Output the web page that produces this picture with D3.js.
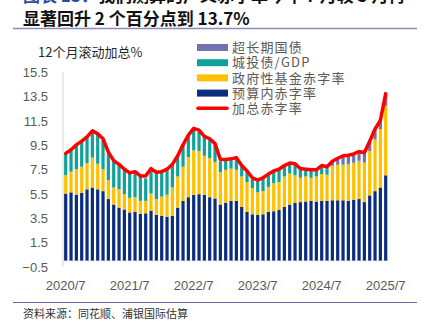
<!DOCTYPE html>
<html>
<head>
<meta charset="utf-8">
<script src="https://cdn.jsdelivr.net/npm/d3@7"></script>
<style>
    html, body { margin: 0; padding: 0; background: #ffffff; }
    svg { display: block; }
</style>
</head>
<body>
<svg id="chart" width="429" height="327"></svg>
<script>
/* ---------------------------------------------------------
   Data (12-month rolling sums, % of GDP), 2020/7 .. 2025/7
   --------------------------------------------------------- */

const START_YEAR = 2020;
const START_MONTH = 7;
const N_MONTHS = 61;

// 预算内赤字率
const budget = [
    5.5, 5.6, 5.4, 5.55, 5.85, 6.0, 5.85, 5.7, 5.05, 4.6, 4.35, 4.2,
    3.95, 4.0, 3.85, 3.88, 4.1, 3.75, 3.68, 3.6, 3.68, 4.35, 4.9, 5.2,
    5.4, 5.45, 5.4, 5.2, 5.1, 4.6, 4.75, 4.9, 4.9, 4.4, 4.0, 3.8,
    3.75, 3.8, 4.0, 4.05, 4.15, 4.4, 4.6, 4.75, 4.8, 4.85, 4.9, 4.85,
    4.9, 4.9, 4.95, 4.95, 4.95, 4.9, 5.0, 5.05, 4.8, 5.35, 5.7, 6.0,
    7.0
];

// 政府性基金赤字率
const fund = [
    1.5, 1.7, 2.1, 2.15, 2.15, 2.45, 2.1, 1.8, 1.55, 1.4, 1.5, 1.25,
    1.2, 1.2, 1.05, 1.02, 1.4, 1.3, 1.57, 1.8, 2.32, 2.55, 2.8, 3.3,
    3.65, 3.55, 3.2, 3.2, 3.0, 2.65, 2.7, 2.65, 2.55, 2.5, 2.45, 2.15,
    1.85, 1.9, 2.05, 2.3, 2.3, 2.5, 2.55, 2.25, 2.0, 2.05, 1.9, 2.05,
    2.2, 2.15, 2.8, 2.9, 2.9, 3.0, 3.0, 3.1, 3.25, 3.65, 4.25, 4.8,
    5.7
];

// 城投债/GDP
const lgfv = [
    1.8, 1.8, 2.0, 2.05, 2.1, 2.05, 2.35, 2.4, 2.2, 2.15, 2.0, 2.0,
    2.0, 2.05, 2.0, 1.85, 1.85, 2.15, 2.0, 2.05, 1.85, 1.7, 1.8, 1.8,
    1.65, 1.55, 1.55, 1.5, 1.4, 0.9, 0.8, 0.8, 0.9, 0.8, 0.8, 0.75,
    0.9, 1.05, 1.05, 0.95, 1.0, 0.85, 0.75, 0.85, 0.65, 0.45, 0.55, 0.45,
    0.55, 0.45, 0.05, 0.05, 0.05, 0.1, 0.05, 0.05, 0.0, 0.0, 0.0, 0.0,
    0.0
];

// 超长期国债
const ultra = [
    0, 0, 0, 0, 0, 0, 0, 0, 0, 0, 0, 0,
    0, 0, 0, 0, 0, 0, 0, 0, 0, 0, 0, 0,
    0, 0, 0, 0, 0, 0, 0, 0, 0, 0, 0, 0,
    0, 0, 0, 0, 0, 0, 0, 0, 0, 0, 0, 0,
    0.1, 0.1, 0.3, 0.45, 0.6, 0.6, 0.65, 0.75, 0.75, 0.75, 0.8, 0.65,
    0.9
];

// 加总赤字率
const total = [
    8.8, 9.1, 9.5, 9.8, 10.15, 10.65, 10.4, 10.0, 8.9, 8.2, 7.9, 7.5,
    7.2, 7.3, 6.95, 6.95, 7.55, 7.25, 7.3, 7.5, 7.9, 8.6, 9.5, 10.3,
    10.85, 10.7, 10.2, 10.0, 9.6, 8.3, 8.3, 8.35, 8.45, 7.8, 7.35, 6.8,
    6.6, 6.8, 7.1, 7.35, 7.5, 7.8, 8.0, 7.95, 7.55, 7.5, 7.45, 7.45,
    7.8, 7.7, 8.15, 8.4, 8.6, 8.65, 8.75, 8.95, 8.85, 9.8, 10.8, 11.5,
    13.7
];

const yTicks = [-0.5, 1.5, 3.5, 5.5, 7.5, 9.5, 11.5, 13.5, 15.5];
const xTickLabels = ["2020/7", "2021/7", "2022/7", "2023/7", "2024/7", "2025/7"];

const months = d3.range(N_MONTHS).map(i => {
    const m = START_MONTH - 1 + i;
    return `${START_YEAR + Math.floor(m / 12)}/${(m % 12) + 1}`;
});

/* ---------------------------------------------------------
   Series / legend config
   --------------------------------------------------------- */

const SERIES = [
    { key: "budget", name: "预算内赤字率",   color: "#0b2d7c", values: budget },
    { key: "fund",   name: "政府性基金赤字率", color: "#ffc000", values: fund },
    { key: "lgfv",   name: "城投债/GDP",     color: "#0fa29b", values: lgfv },
    { key: "ultra",  name: "超长期国债",     color: "#7272ad", values: ultra }
];
const LINE_COLOR = "#ff0000";

const CJK = "'Noto Sans CJK SC', 'Noto Sans', sans-serif";
const LATIN = "'Liberation Sans', Arial, sans-serif";
const GREY = "#595959";

/* ---------------------------------------------------------
   Layout
   --------------------------------------------------------- */

const svg = d3.select("#chart");

const x = d3.scaleBand()
    .domain(months)
    .range([62.5, 388.9])
    .paddingInner(0.4)
    .paddingOuter(0.3);

const y = d3.scaleLinear()
    .domain([-0.5, 15.5])
    .range([266.7, 71.7]);

/* ---------------------------------------------------------
   Header
   --------------------------------------------------------- */

// first title line, mostly cut off at the top edge
const t1 = svg.append("text")
    .attr("x", 23)
    .attr("y", 2)
    .attr("font-family", CJK)
    .attr("font-size", 17)
    .attr("font-weight", 700);
t1.append("tspan").attr("fill", "#2e4a9e").text("图表 13：");
t1.append("tspan").attr("fill", "#111111").text("我们测算的广义赤字率今年 7 月较 5 月再");

svg.append("text")
    .attr("x", 23)
    .attr("y", 24.5)
    .attr("font-family", CJK)
    .attr("font-size", 17)
    .attr("font-weight", 700)
    .attr("fill", "#111111")
    .text("显著回升 2 个百分点到 13.7%");

svg.append("line")
    .attr("x1", 13).attr("x2", 417)
    .attr("y1", 28.5).attr("y2", 28.5)
    .attr("stroke", "#8c8cbd")
    .attr("stroke-width", 1.5);

svg.append("text")
    .attr("x", 38)
    .attr("y", 57)
    .attr("font-family", CJK)
    .attr("font-size", 13)
    .attr("fill", "#262626")
    .text("12个月滚动加总%");

/* ---------------------------------------------------------
   Axes
   --------------------------------------------------------- */

svg.append("line")
    .attr("x1", 63).attr("x2", 63)
    .attr("y1", y(15.5)).attr("y2", y(-0.5))
    .attr("stroke", "#e3e3e3")
    .attr("stroke-width", 1.5);

svg.append("line")
    .attr("x1", 63).attr("x2", 389)
    .attr("y1", y(0)).attr("y2", y(0))
    .attr("stroke", "#e6e6e6")
    .attr("stroke-width", 1);

const yAxis = svg.append("g")
    .attr("transform", "translate(50,0)")
    .call(d3.axisLeft(y).tickValues(yTicks).tickFormat(d3.format(".1f")).tickSize(0).tickPadding(2));
yAxis.select(".domain").remove();
yAxis.selectAll("text")
    .attr("font-family", LATIN)
    .attr("font-size", 13)
    .attr("fill", GREY)
    .attr("dy", "0.35em");

const xAxis = svg.append("g")
    .attr("transform", "translate(0,278)")
    .call(d3.axisBottom(x).tickValues(xTickLabels).tickSize(0).tickPadding(0));
xAxis.select(".domain").remove();
xAxis.selectAll("text")
    .attr("font-family", LATIN)
    .attr("font-size", 13)
    .attr("fill", GREY)
    .attr("dy", "0.95em");

/* ---------------------------------------------------------
   Stacked bars
   --------------------------------------------------------- */

const table = months.map((m, i) => {
    const row = { month: m };
    SERIES.forEach(s => { row[s.key] = s.values[i]; });
    return row;
});

const stacked = d3.stack().keys(SERIES.map(s => s.key))(table);

svg.append("g")
    .selectAll("g")
    .data(stacked)
    .join("g")
    .attr("fill", (d, i) => SERIES[i].color)
    .selectAll("rect")
    .data(d => d)
    .join("rect")
    .attr("x", d => x(d.data.month))
    .attr("width", x.bandwidth())
    .attr("y", d => y(d[1]))
    .attr("height", d => Math.max(0, y(d[0]) - y(d[1])));

/* ---------------------------------------------------------
   Total line
   --------------------------------------------------------- */

const line = d3.line()
    .x((_, i) => x(months[i]) + x.bandwidth() / 2)
    .y(v => y(v));

svg.append("path")
    .datum(total)
    .attr("fill", "none")
    .attr("stroke", LINE_COLOR)
    .attr("stroke-width", 3.5)
    .attr("stroke-linejoin", "round")
    .attr("stroke-linecap", "round")
    .attr("d", line);

/* ---------------------------------------------------------
   Legend
   --------------------------------------------------------- */

const legendItems = [
    { name: "超长期国债",     color: "#7272ad", type: "rect" },
    { name: "城投债/GDP",     color: "#0fa29b", type: "rect" },
    { name: "政府性基金赤字率", color: "#ffc000", type: "rect" },
    { name: "预算内赤字率",   color: "#0b2d7c", type: "rect" },
    { name: "加总赤字率",     color: LINE_COLOR, type: "line" }
];

const legend = svg.append("g")
    .selectAll("g")
    .data(legendItems)
    .join("g")
    .attr("transform", (d, i) => `translate(197,${47.5 + i * 15.2})`);

legend.filter(d => d.type === "rect")
    .append("rect")
    .attr("x", 0).attr("y", -3.5)
    .attr("width", 31).attr("height", 7)
    .attr("fill", d => d.color);

legend.filter(d => d.type === "line")
    .append("line")
    .attr("x1", 1).attr("x2", 30)
    .attr("y1", 0).attr("y2", 0)
    .attr("stroke", d => d.color)
    .attr("stroke-width", 3.5)
    .attr("stroke-linecap", "round");

legend.append("text")
    .attr("x", 35)
    .attr("y", 0)
    .attr("dy", "0.36em")
    .attr("font-family", CJK)
    .attr("font-size", 13)
    .attr("letter-spacing", 1.2)
    .attr("fill", GREY)
    .text(d => d.name);

/* ---------------------------------------------------------
   Footer
   --------------------------------------------------------- */

svg.append("line")
    .attr("x1", 13).attr("x2", 417)
    .attr("y1", 302.5).attr("y2", 302.5)
    .attr("stroke", "#6b6b9a")
    .attr("stroke-width", 1);

svg.append("text")
    .attr("x", 23)
    .attr("y", 318)
    .attr("font-family", CJK)
    .attr("font-size", 11)
    .attr("fill", "#333333")
    .text("资料来源：同花顺、浦银国际估算");
</script>
</body>
</html>
